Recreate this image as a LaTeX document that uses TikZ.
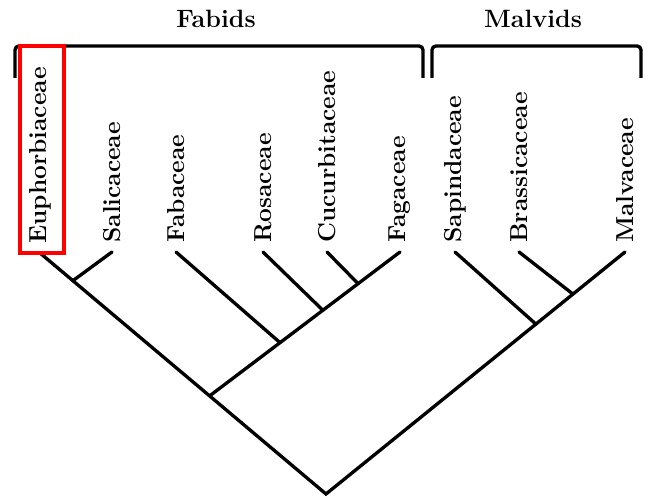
\documentclass[tikz,border=0pt]{standalone}
\usepackage{tikz}
\usetikzlibrary{calc}
\usetikzlibrary{positioning}
\tikzset{taxon/.style = {rotate = 90, anchor = west, inner xsep = 6.75pt, inner ysep = 0, font = \fontsize{18.4}{20}\selectfont\bfseries}}
\tikzset{clade/.style = {anchor = base, inner sep = 0, font = \fontsize{18.8}{20}\selectfont\bfseries}}
\tikzset{branch/.style = {line width = 2.5pt, line cap = round}}
\tikzset{bracket/.style = {line width = 2.5pt, rounded corners = 3pt}}

\begin{document}
\begin{tikzpicture}[x = 0.75pt, y = -0.75pt]
      \useasboundingbox (0, 0) rectangle (654, 498);

      \node [taxon] (euph) at (40, 253) {Euphorbiaceae};
      \node [taxon] (sali) at (112, 252) {Salicaceae};
      \node [taxon] (faba) at (176, 252) {Fabaceae};
      \node [taxon] (rosa) at (263, 252) {Rosaceae};
      \node [taxon] (cucu) at (327, 252) {Cucurbitaceae};
      \node [taxon] (faga) at (400, 252) {Fagaceae};
      \node [taxon] (sapi) at (455, 252) {Sapindaceae};
      \node [taxon] (bras) at (519, 252) {Brassicaceae};
      \node [taxon] (malv) at (625, 252) {Malvaceae};

      \coordinate (root) at (326, 494);
      \coordinate (fabroot) at ($(euph.west)!0.593!(root)$);
      \coordinate (salij) at ($(euph.west)!0.115!(root)$);
      \coordinate (cucuj) at ($(faga.west)!0.22!(fabroot)$);
      \coordinate (rosaj) at ($(faga.west)!0.405!(fabroot)$);
      \coordinate (fabaj) at ($(faga.west)!0.63!(fabroot)$);
      \coordinate (brasj) at ($(malv.west)!0.174!(root)$);
      \coordinate (sapij) at ($(malv.west)!0.298!(root)$);

      \draw [branch, line join = miter] (euph.west) -- (root) -- (malv.west);
      \draw [branch] (sali.west) -- (salij);
      \draw [branch] (faga.west) -- (fabroot);
      \draw [branch] (faba.west) -- (fabaj);
      \draw [branch] (rosa.west) -- (rosaj);
      \draw [branch] (cucu.west) -- (cucuj);
      \draw [branch] (sapi.west) -- (sapij);
      \draw [branch] (bras.west) -- (brasj);

      \node [clade] (fabids) at (216, 28) {Fabids};
      \node [clade] (malvids) at (533, 28) {Malvids};

      \draw [bracket] (15, 78) -- (15, 46) -- (423, 46) -- (423, 78);
      \draw [bracket] (432, 78) -- (432, 46) -- (641, 46) -- (641, 78);

      \draw [red, line width = 2.5pt] (20, 46) rectangle (64, 253);
    \end{tikzpicture}
\end{document}
